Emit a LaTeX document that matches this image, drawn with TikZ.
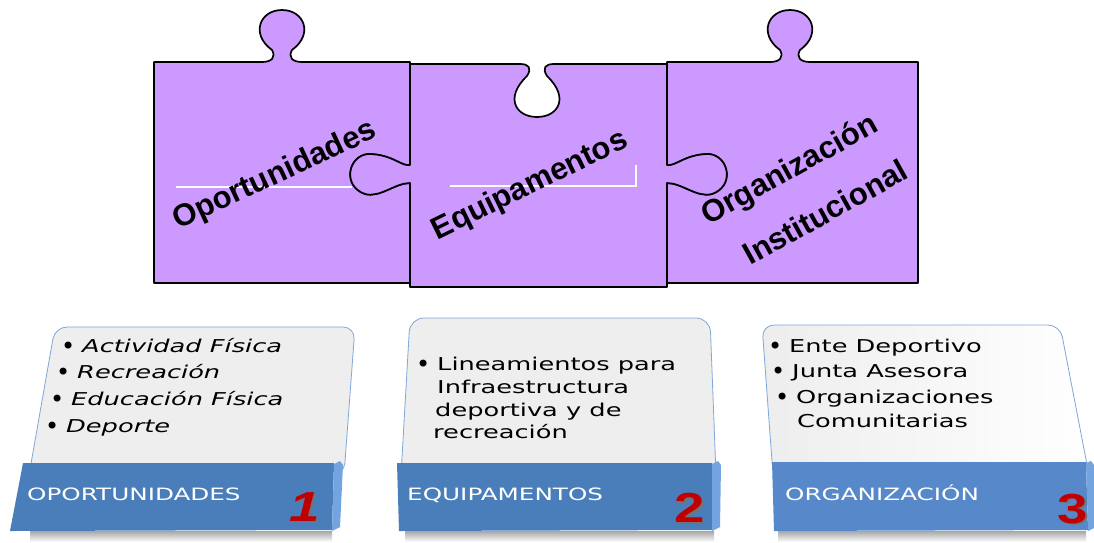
\documentclass[tikz,border=0pt]{standalone}
\usepackage{fontspec}
\setmainfont{DejaVu Sans}
\newfontfamily\cardfont[FakeStretch=1.45]{DejaVu Sans}
\newfontfamily\bulfont{DejaVu Sans}
\newfontfamily\puzfont{Liberation Sans}
\newfontfamily\numfont[FakeStretch=1.3]{Liberation Sans}
\newcommand\bl{\makebox[21pt][l]{\raisebox{-2.6pt}{\bulfont\fontsize{24}{20}\selectfont •}}}
\definecolor{puz}{HTML}{CC99FF}
\definecolor{cardgray}{HTML}{EEEEEE}
\definecolor{cardline}{HTML}{7FA7DA}
\definecolor{bandblue}{HTML}{4A7EBB}
\definecolor{bandblueb}{HTML}{5688CA}
\definecolor{bandside}{HTML}{74A4E0}
\definecolor{numred}{HTML}{C00000}
\tikzset{
  piece/.style={fill=puz, draw=black, line width=1.7pt, line join=round},
  ptext/.style={font=\puzfont\bfseries\fontsize{31}{31}\selectfont, inner sep=0pt},
  cardbg/.style={fill=cardgray, draw=cardline, line width=0.8pt},
  band/.style={fill=bandblue},
  bandside/.style={fill=bandside},
  item/.style={font=\cardfont\fontsize{17.7}{20}\selectfont, anchor=base west, inner sep=0pt, text=black},
  bandtext/.style={font=\cardfont\fontsize{17}{20}\selectfont, text=white, anchor=base west, inner sep=0pt},
  num/.style={font=\numfont\bfseries\fontsize{42}{42}\selectfont, text=numred, inner sep=0pt},
  numshadow/.style={font=\numfont\bfseries\fontsize{42}{42}\selectfont, text=black!55, inner sep=0pt},
  cardshadow/.style={top color=black!35, bottom color=white},
}
\begin{document}
\begin{tikzpicture}[x=1pt,y=-1pt]
\useasboundingbox (0,0) rectangle (1094,542);
\fill[white] (0,0) rectangle (1094,542);

% ---------- puzzle pieces ----------
% piece 1
\path[piece] (154,62) -- (262,62)
  .. controls (272,62) and (276,57) .. (272,50)
  .. controls (250,34) and (260,10) .. (282,10)
  .. controls (304,10) and (314,34) .. (292,50)
  .. controls (288,57) and (292,62) .. (302,62)
  -- (410,62) -- (410,165)
  .. controls (402,167) and (392,154) .. (368,154)
  .. controls (348,156) and (342,186) .. (365,194)
  .. controls (380,198) and (395,183) .. (410,183)
  -- (410,283) -- (154,283) -- cycle;
% piece 3
\path[piece] (667,62) -- (770,62)
  .. controls (780,62) and (784,57) .. (780,50)
  .. controls (758,34) and (768,10) .. (790,10)
  .. controls (812,10) and (822,34) .. (800,50)
  .. controls (796,57) and (800,62) .. (810,62)
  -- (918,62) -- (918,283) -- (667,283) -- (667,183)
  .. controls (682,183) and (697,198) .. (712,194)
  .. controls (735,186) and (729,156) .. (709,154)
  .. controls (685,154) and (675,167) .. (667,165) -- cycle;
% piece 2
\path[piece] (410,64) -- (520,64)
  .. controls (529,64) and (532,68) .. (527,76)
  .. controls (504,98) and (516,117) .. (537,117)
  .. controls (558,117) and (570,98) .. (547,76)
  .. controls (542,68) and (545,64) .. (554,64)
  -- (667,64) -- (667,165)
  .. controls (675,167) and (685,154) .. (709,154)
  .. controls (729,156) and (735,186) .. (712,194)
  .. controls (697,198) and (682,183) .. (667,183)
  -- (667,287) -- (410,287) -- (410,183)
  .. controls (395,183) and (380,198) .. (365,194)
  .. controls (342,186) and (348,156) .. (368,154)
  .. controls (392,154) and (402,167) .. (410,165) -- cycle;

% white rules
\draw[white, line width=1.5pt] (176,187) -- (352,187);
\draw[white, line width=1.5pt] (450,186) -- (636,186) -- (636,165);

% puzzle texts
\node[ptext, rotate=25] (t1) at (275,176) {Oportunidades};
\node[ptext, rotate=26] (t2) at (530,186) {Equipamentos};
\node[ptext, rotate=29] (t3a) at (790,171) {Organización};
\node[ptext, rotate=29] (t3b) at (825,212) {Institucional};

% ---------- cards ----------
% shadows
\shade[cardshadow] (30,531) rectangle (332,542);
\shade[cardshadow] (405,531) rectangle (714,542);
\shade[cardshadow] (778,531) rectangle (1086,542);

% card 1
\path[cardbg, rounded corners=12pt] (29,475) -- (55,327) -- (355,327) -- (344,475) -- cycle;
\path[band] (23,463) -- (334,463) -- (332,530) -- (10,531) -- cycle;
\path[bandside] (334,464) -- (340,461) -- (343,465) -- (340,527) -- (332,531) -- cycle;
% card 2
\path[cardbg, rounded corners=14pt] (401,475) -- (410,318) -- (710,318) -- (716,475) -- cycle;
\path[band] (397,463) -- (712,463) -- (712,530) -- (399,531) -- cycle;
\path[bandside] (712,464) -- (718,461) -- (721,465) -- (720,527) -- (712,531) -- cycle;
% card 3
\path[cardbg, left color=white!93!black, right color=white, rounded corners=12pt] (773,475) -- (762,325) -- (1060,325) -- (1089,475) -- cycle;
\path[fill=bandblueb] (772,462) -- (1086,462) -- (1088,530) -- (774,531) -- cycle;
\path[bandside] (1086,463) -- (1091,461) -- (1094,465) -- (1094,528) -- (1088,531) -- cycle;

% card 1 items
\node[item] (a1) at (61,352) {\bl\itshape Actividad Física};
\node[item] (a2) at (56,378) {\bl\itshape Recreación};
\node[item] (a3) at (50,405) {\bl\itshape Educación Física};
\node[item] (a4) at (45,432) {\bl\itshape Deporte};
% card 2 items
\node[item] (b1) at (416,370) {\bl Lineamientos para};
\node[item] (b2) at (437,393) {Infraestructura};
\node[item] (b3) at (435,416) {deportiva y de};
\node[item] (b4) at (433,438) {recreación};
% card 3 items
\node[item] (c1) at (768,352) {\bl Ente Deportivo};
\node[item] (c2) at (771,377) {\bl Junta Asesora};
\node[item] (c3) at (775,403) {\bl Organizaciones};
\node[item] (c4) at (797,427) {Comunitarias};

% band labels
\node[bandtext] (l1) at (27,500) {OPORTUNIDADES};
\node[bandtext] (l2) at (407,500) {EQUIPAMENTOS};
\node[bandtext] (l3) at (785,500) {ORGANIZACIÓN};

% numbers
\node[numshadow] (n1s) at (306.5,508.5) {\itshape 1};
\node[num] (n1) at (305,507) {\itshape 1};
\node[numshadow] (n2s) at (691.5,509.5) {2};
\node[num] (n2) at (690,508) {2};
\node[numshadow] (n3s) at (1074.5,510.5) {3};
\node[num] (n3) at (1073,509) {3};
\end{tikzpicture}
\end{document}
